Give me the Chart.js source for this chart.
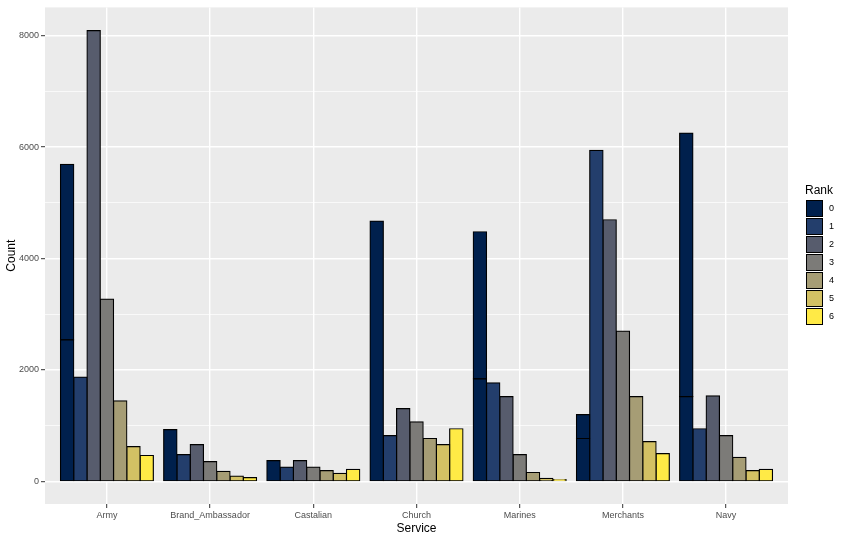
<!DOCTYPE html>
<html lang="en">
  <head>
    <meta charset="UTF-8" />
    <title>Count by Service and Rank</title>
    <script src="https://cdn.jsdelivr.net/npm/chart.js"></script>
    <style>
      body { margin: 0; background: #ffffff; }
      #wrap { width: 846px; height: 540px; }
    </style>
  </head>
  <body>
    <div id="wrap"><canvas id="rankChart"></canvas></div>
    <script>
      // Data
      const services = ["Army", "Brand_Ambassador", "Castalian", "Church", "Marines", "Merchants", "Navy"];
      const ranks = ["0", "1", "2", "3", "4", "5", "6"];

      // rank 0 bars are made of two stacked pieces in some services
      const rank0Lower = [2540, 930, 375, 4670, 1840, 770, 1520];
      const rank0Upper = [3150, null, null, null, 2640, 430, 4730];
      const rank1 = [1870, 480, 255, 820, 1770, 5940, 945];
      const rank2 = [8090, 660, 375, 1305, 1520, 4695, 1535];
      const rank3 = [3270, 355, 255, 1070, 480, 2695, 820];
      const rank4 = [1445, 180, 195, 770, 160, 1520, 430];
      const rank5 = [625, 95, 145, 660, 55, 715, 195];
      const rank6 = [465, 70, 215, 945, 35, 500, 215];

      const yGridTicks = [0, 1000, 2000, 3000, 4000, 5000, 6000, 7000, 8000];

      // cividis palette
      const rankColors = ["#00204D", "#233E6C", "#575C6D", "#7C7B78", "#A69D75", "#D3C164", "#FFEA46"];

      function toPoints(values) {
        return values.map((v, i) => ({ x: i + 1, y: v }));
      }

      const rankSeries = [
        [rank0Lower, rank0Upper],
        [rank1],
        [rank2],
        [rank3],
        [rank4],
        [rank5],
        [rank6],
      ];

      const datasets = [];
      rankSeries.forEach((pieces, r) => {
        pieces.forEach((values) => {
          datasets.push({
            label: ranks[r],
            stack: "rank" + ranks[r],
            data: toPoints(values),
            backgroundColor: rankColors[r],
            borderColor: "#000000",
            borderWidth: 1.2,
            borderSkipped: false,
            inflateAmount: 0.6,
            categoryPercentage: 0.9,
            barPercentage: 1.0,
          });
        });
      });

      // grey panel behind the plot like ggplot
      const panelBg = {
        id: "panelBg",
        beforeDraw(chart) {
          const { ctx, chartArea } = chart;
          ctx.save();
          ctx.fillStyle = "#EBEBEB";
          ctx.fillRect(chartArea.left, chartArea.top, chartArea.right - chartArea.left, chartArea.bottom - chartArea.top);
          ctx.restore();
        },
      };

      // legend drawn on the right side
      const rankLegend = {
        id: "rankLegend",
        afterDraw(chart) {
          const ctx = chart.ctx;
          ctx.save();
          ctx.fillStyle = "#000000";
          ctx.font = "12px 'Liberation Sans', Arial, sans-serif";
          ctx.textBaseline = "middle";
          ctx.textAlign = "left";
          ctx.fillText("Rank", 805, 191);
          ranks.forEach((r, i) => {
            const y = 200 + i * 18;
            ctx.fillStyle = rankColors[i];
            ctx.fillRect(806, y, 17, 17);
            ctx.strokeStyle = "#000000";
            ctx.lineWidth = 1;
            ctx.strokeRect(806.5, y + 0.5, 16, 16);
            ctx.fillStyle = "#000000";
            ctx.font = "9px 'Liberation Sans', Arial, sans-serif";
            ctx.fillText(r, 829, y + 9);
          });
          ctx.restore();
        },
      };

      Chart.defaults.font.family = "'Liberation Sans', Arial, sans-serif";

      const ctx = document.getElementById("rankChart").getContext("2d");
      const rankChart = new Chart(ctx, {
        type: "bar",
        data: { datasets: datasets },
        options: {
          responsive: true,
          maintainAspectRatio: false,
          animation: false,
          layout: { padding: { top: 5, right: 58, bottom: 0, left: 0 } },
          plugins: {
            legend: { display: false },
            tooltip: { enabled: false },
          },
          scales: {
            x: {
              type: "linear",
              offset: false,
              min: 0.4,
              max: 7.6,
              afterBuildTicks: (axis) => {
                axis.ticks = services.map((s, i) => ({ value: i + 1 }));
              },
              afterFit: (axis) => {
                axis.height = 36;
              },
              ticks: {
                autoSkip: false,
                maxRotation: 0,
                padding: 2,
                color: "#4D4D4D",
                font: { size: 9 },
                callback: (value, index) => services[index],
              },
              grid: {
                offset: false,
                color: "#FFFFFF",
                lineWidth: 1.4,
                tickColor: "#333333",
                tickLength: 4,
                tickWidth: 1,
              },
              border: { display: false },
              title: {
                display: true,
                text: "Service",
                color: "#000000",
                font: { size: 12 },
                padding: { top: 0, bottom: 4 },
              },
            },
            y: {
              stacked: true,
              min: -405,
              max: 8505,
              afterBuildTicks: (axis) => {
                axis.ticks = yGridTicks.map((v) => ({ value: v }));
              },
              afterFit: (axis) => {
                axis.width = 45;
              },
              ticks: {
                padding: 2,
                color: "#4D4D4D",
                font: { size: 9 },
                callback: (value) => (value % 2000 === 0 ? value : ""),
              },
              grid: {
                color: "#FFFFFF",
                lineWidth: (c) => (c.tick && c.tick.value % 2000 === 0 ? 1.4 : 0.7),
                tickColor: (c) => (c.tick && c.tick.value % 2000 === 0 ? "#333333" : "rgba(0,0,0,0)"),
                tickLength: 4,
                tickWidth: 1,
              },
              border: { display: false },
              title: {
                display: true,
                text: "Count",
                color: "#000000",
                font: { size: 12 },
                padding: { top: 4, bottom: 0 },
              },
            },
          },
        },
        plugins: [panelBg, rankLegend],
      });
    </script>
  </body>
</html>
